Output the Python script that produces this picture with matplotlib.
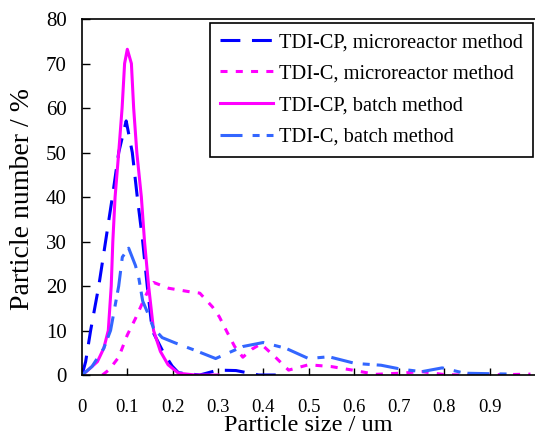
import numpy as np
import matplotlib
matplotlib.use("Agg")
import matplotlib.pyplot as plt

plt.rcParams["font.family"] = ["Liberation Serif", "DejaVu Serif"]

# ---------- data ----------
# TDI-CP, microreactor method
cp_micro_x = [0, 0.008, 0.019, 0.037, 0.052, 0.067, 0.081, 0.0975, 0.111, 0.122, 0.134,
              0.144, 0.155, 0.18, 0.199, 0.213, 0.26, 0.30, 0.34, 0.39, 0.44]
cp_micro_y = [0, 3, 10, 20, 30, 40, 50, 57.1, 50, 40, 30,
              20, 10, 5, 2, 0.5, 0, 1.1, 1.0, 0, 0]

# TDI-C, microreactor method
c_micro_x = [0.045, 0.06, 0.081, 0.1, 0.118, 0.133, 0.151, 0.158, 0.191, 0.238, 0.26,
             0.288, 0.303, 0.32, 0.337, 0.355, 0.375, 0.395, 0.43, 0.456, 0.50, 0.55,
             0.597, 0.648, 0.70, 0.75, 0.80, 0.84, 0.945, 0.99]
c_micro_y = [0, 1.2, 4, 9, 12.7, 16.1, 20.1, 20.8, 19.5, 18.7, 18.4,
             15.3, 13.1, 9.7, 6.4, 4.0, 5.8, 7.0, 3.7, 1.1, 2.3, 1.9,
             1.1, 0.15, 0.4, 0.75, 0.1, 0, 0.1, 0.2]

# TDI-CP, batch method
cp_batch_x = [0, 0.01, 0.034, 0.048, 0.058, 0.0645, 0.068, 0.073, 0.081, 0.0885, 0.094,
              0.1, 0.109, 0.114, 0.121, 0.131, 0.138, 0.147, 0.158, 0.173, 0.19,
              0.213, 0.25, 0.30]
cp_batch_y = [0, 0.8, 3, 6, 10, 20, 30, 40, 50, 60, 70,
              73.2, 70, 60, 50, 40, 30, 20, 10, 5.3, 2.3,
              0.4, 0, 0]

# TDI-C, batch method
c_batch_x = [0, 0.022, 0.048, 0.063, 0.072, 0.081, 0.089, 0.103, 0.118, 0.125, 0.134,
             0.144, 0.158, 0.177, 0.206, 0.248, 0.295, 0.355, 0.40, 0.45, 0.50,
             0.545, 0.603, 0.66, 0.705, 0.75, 0.795, 0.845, 0.95]
c_batch_y = [0, 1.9, 6.0, 10, 15, 20, 26.5, 28.5, 24.6, 22, 16.6,
             14.2, 10.5, 8.4, 7.2, 5.6, 3.7, 6.4, 7.3, 6.0, 3.7,
             4.1, 2.6, 2.2, 1.3, 0.75, 1.6, 0.4, 0.2]

labels = ["TDI-CP, microreactor method", "TDI-C, microreactor method",
          "TDI-CP, batch method", "TDI-C, batch method"]

# ---------- plot ----------
fig = plt.figure(figsize=(5.35, 4.36), dpi=100)
ax = fig.add_axes([0.1533, 0.1399, 0.8467, 0.8165])

lw = 2.2
ax.plot(cp_micro_x, cp_micro_y, color="#0000ff", lw=lw, dashes=(6.5, 3.8), label=labels[0])
ax.plot(c_micro_x, c_micro_y, color="#ff00ff", lw=lw, dashes=(2.3, 2.7), label=labels[1])
ax.plot(cp_batch_x, cp_batch_y, color="#ff00ff", lw=lw, label=labels[2])
ax.plot(c_batch_x, c_batch_y, color="#3366ff", lw=lw, dashes=(7.2, 3.3, 2.3, 2.3), label=labels[3])

ax.set_xlim(0, 1.0)
ax.set_ylim(0, 80)
ax.set_xticks(np.arange(0, 1.0, 0.1))
ax.set_xticklabels(["0"] + [f"{v:.1f}" for v in np.arange(0.1, 1.0, 0.1)])
ax.set_yticks(range(0, 81, 10))

ax.spines["right"].set_visible(False)
for s in ["left", "bottom", "top"]:
    ax.spines[s].set_linewidth(1.2)

ax.tick_params(axis="x", direction="in", length=5, width=1, pad=17, labelsize=13.5)
ax.tick_params(axis="y", direction="in", length=6, width=1, pad=11, labelsize=15)
ax.tick_params(top=False, right=False)

ax.set_xlabel("Particle size / um", fontsize=17.5)
ax.xaxis.set_label_coords(0.5, -0.111)
ax.set_ylabel("Particle number / %", fontsize=20)
ax.yaxis.set_label_coords(-0.104, 0.494)

leg = ax.legend(loc="upper right", bbox_to_anchor=(0.995, 0.99), fontsize=14.7,
                frameon=True, fancybox=False, edgecolor="black", framealpha=1,
                handlelength=2.55, handletextpad=0.3, labelspacing=0.6,
                borderpad=0.5, borderaxespad=0)
leg.get_frame().set_linewidth(1.2)

fig.savefig("out.png", dpi=100)
